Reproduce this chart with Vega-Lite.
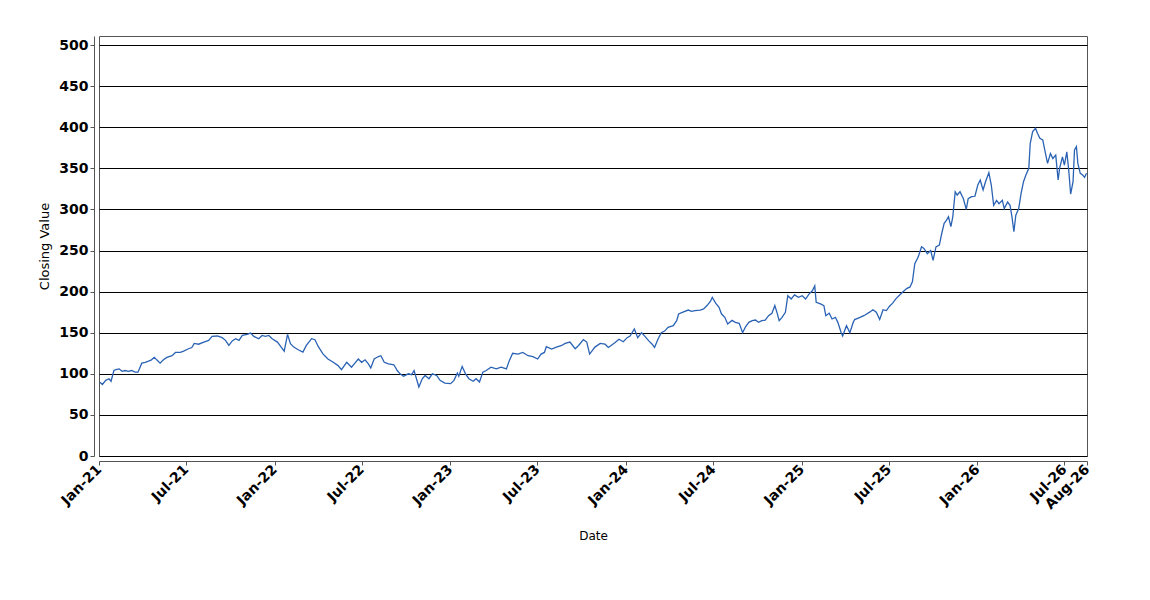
{
  "$schema": "https://vega.github.io/schema/vega-lite/v6.json",
  "width": 988,
  "height": 420,
  "autosize": {"type": "none"},
  "padding": {"left": 99, "top": 36, "right": 63, "bottom": 144},
  "background": "white",
  "config": {
    "view": {"stroke": "#555555", "strokeWidth": 1},
    "font": "DejaVu Sans"
  },
  "data": {
    "values": [
      {"d":"2021-01-03","v":89.8},{"d":"2021-01-08","v":87},{"d":"2021-01-15","v":92},{"d":"2021-01-22","v":94},{"d":"2021-01-26","v":91},
      {"d":"2021-02-01","v":104},{"d":"2021-02-05","v":105},{"d":"2021-02-12","v":106},{"d":"2021-02-18","v":103},{"d":"2021-02-24","v":104},
      {"d":"2021-03-03","v":103},{"d":"2021-03-10","v":104},{"d":"2021-03-17","v":102},{"d":"2021-03-23","v":102},{"d":"2021-03-31","v":113},
      {"d":"2021-04-07","v":114},{"d":"2021-04-14","v":115.5},{"d":"2021-04-20","v":117},{"d":"2021-04-26","v":120},{"d":"2021-05-01","v":117},
      {"d":"2021-05-08","v":113},{"d":"2021-05-15","v":117},{"d":"2021-05-22","v":120},{"d":"2021-06-02","v":122},{"d":"2021-06-09","v":126},
      {"d":"2021-06-19","v":126},{"d":"2021-06-26","v":127.6},{"d":"2021-07-06","v":130.5},{"d":"2021-07-13","v":132},{"d":"2021-07-18","v":137},
      {"d":"2021-07-27","v":136},{"d":"2021-08-07","v":138.6},{"d":"2021-08-17","v":140.7},{"d":"2021-08-24","v":145.5},{"d":"2021-09-04","v":146},
      {"d":"2021-09-14","v":144},{"d":"2021-09-21","v":140.7},{"d":"2021-09-28","v":134.5},{"d":"2021-10-05","v":140},{"d":"2021-10-12","v":142.7},
      {"d":"2021-10-19","v":140.7},{"d":"2021-10-26","v":146.7},{"d":"2021-11-05","v":148},{"d":"2021-11-12","v":149.6},{"d":"2021-11-19","v":145.5},
      {"d":"2021-11-29","v":142.7},{"d":"2021-12-06","v":146.7},{"d":"2021-12-13","v":145.5},{"d":"2021-12-20","v":146.7},{"d":"2021-12-27","v":142.7},
      {"d":"2022-01-07","v":138.6},{"d":"2022-01-14","v":133},{"d":"2022-01-21","v":127.6},{"d":"2022-01-28","v":148},{"d":"2022-02-03","v":136.6},
      {"d":"2022-02-10","v":132.5},{"d":"2022-02-20","v":129},{"d":"2022-03-01","v":126.4},{"d":"2022-03-08","v":134.5},{"d":"2022-03-19","v":142.7},
      {"d":"2022-03-26","v":141.5},{"d":"2022-04-02","v":133},{"d":"2022-04-12","v":124},{"d":"2022-04-22","v":118},{"d":"2022-05-03","v":114},
      {"d":"2022-05-13","v":110},{"d":"2022-05-20","v":105},{"d":"2022-05-31","v":114},{"d":"2022-06-10","v":108},{"d":"2022-06-17","v":113},
      {"d":"2022-06-24","v":118},{"d":"2022-07-01","v":114},{"d":"2022-07-08","v":117},{"d":"2022-07-15","v":112},{"d":"2022-07-20","v":107},
      {"d":"2022-07-27","v":118},{"d":"2022-08-05","v":121},{"d":"2022-08-10","v":122},{"d":"2022-08-17","v":114},{"d":"2022-08-26","v":112},
      {"d":"2022-09-06","v":111},{"d":"2022-09-13","v":104},{"d":"2022-09-19","v":100},{"d":"2022-09-26","v":97},{"d":"2022-10-06","v":100},
      {"d":"2022-10-13","v":99},{"d":"2022-10-18","v":104},{"d":"2022-10-23","v":94},{"d":"2022-10-28","v":84},{"d":"2022-11-04","v":94},
      {"d":"2022-11-10","v":98},{"d":"2022-11-18","v":94},{"d":"2022-11-25","v":100},{"d":"2022-12-04","v":98},{"d":"2022-12-11","v":92},
      {"d":"2022-12-21","v":88.6},{"d":"2023-01-02","v":88},{"d":"2023-01-09","v":92},{"d":"2023-01-16","v":101},{"d":"2023-01-19","v":97},
      {"d":"2023-01-26","v":109},{"d":"2023-02-02","v":100},{"d":"2023-02-09","v":94},{"d":"2023-02-18","v":91},{"d":"2023-02-24","v":94},
      {"d":"2023-03-03","v":90},{"d":"2023-03-10","v":102},{"d":"2023-03-17","v":104},{"d":"2023-03-27","v":108},{"d":"2023-04-07","v":106},
      {"d":"2023-04-17","v":108},{"d":"2023-04-28","v":106},{"d":"2023-05-04","v":116},{"d":"2023-05-11","v":125},{"d":"2023-05-22","v":124},
      {"d":"2023-06-01","v":126},{"d":"2023-06-12","v":122},{"d":"2023-06-22","v":121},{"d":"2023-07-02","v":118},{"d":"2023-07-09","v":124},
      {"d":"2023-07-16","v":126},{"d":"2023-07-20","v":133},{"d":"2023-07-31","v":130},{"d":"2023-08-10","v":132.5},{"d":"2023-08-21","v":134.5},
      {"d":"2023-08-28","v":137},{"d":"2023-09-07","v":138.6},{"d":"2023-09-18","v":130.5},{"d":"2023-09-25","v":134.5},{"d":"2023-10-05","v":141.5},
      {"d":"2023-10-12","v":138.6},{"d":"2023-10-18","v":124},{"d":"2023-10-29","v":132.5},{"d":"2023-11-09","v":137},{"d":"2023-11-19","v":136},
      {"d":"2023-11-26","v":132},{"d":"2023-12-03","v":135},{"d":"2023-12-10","v":138},{"d":"2023-12-18","v":142},{"d":"2023-12-27","v":139},
      {"d":"2024-01-04","v":144},{"d":"2024-01-10","v":146},{"d":"2024-01-19","v":154.5},{"d":"2024-01-26","v":144},{"d":"2024-02-03","v":150},
      {"d":"2024-02-11","v":145},{"d":"2024-02-18","v":140},{"d":"2024-02-25","v":136},{"d":"2024-03-01","v":132},{"d":"2024-03-08","v":142},
      {"d":"2024-03-15","v":150},{"d":"2024-03-22","v":152},{"d":"2024-03-29","v":156.5},{"d":"2024-04-09","v":158.5},{"d":"2024-04-16","v":164.6},
      {"d":"2024-04-20","v":172.8},{"d":"2024-04-29","v":175},{"d":"2024-05-10","v":177.6},{"d":"2024-05-17","v":176},{"d":"2024-05-24","v":177},
      {"d":"2024-06-04","v":177.6},{"d":"2024-06-11","v":179},{"d":"2024-06-18","v":183},{"d":"2024-06-25","v":188},{"d":"2024-06-29","v":193},
      {"d":"2024-07-06","v":186},{"d":"2024-07-13","v":181},{"d":"2024-07-18","v":173},{"d":"2024-07-25","v":168.7},{"d":"2024-07-31","v":160.6},
      {"d":"2024-08-09","v":165},{"d":"2024-08-16","v":162.6},{"d":"2024-08-24","v":161.4},{"d":"2024-08-31","v":150},{"d":"2024-09-06","v":157},
      {"d":"2024-09-13","v":162.6},{"d":"2024-09-20","v":164.6},{"d":"2024-09-27","v":165.4},{"d":"2024-10-03","v":162.6},{"d":"2024-10-10","v":164.6},
      {"d":"2024-10-17","v":165.4},{"d":"2024-10-24","v":170.7},{"d":"2024-10-31","v":173.6},{"d":"2024-11-06","v":183},{"d":"2024-11-11","v":173.6},
      {"d":"2024-11-15","v":164.6},{"d":"2024-11-21","v":168.7},{"d":"2024-11-28","v":174.8},{"d":"2024-12-03","v":195},{"d":"2024-12-10","v":191},
      {"d":"2024-12-17","v":196},{"d":"2024-12-25","v":193},{"d":"2025-01-02","v":195},{"d":"2025-01-09","v":191},{"d":"2025-01-16","v":197},
      {"d":"2025-01-23","v":201},{"d":"2025-01-28","v":207},{"d":"2025-01-31","v":187},{"d":"2025-02-09","v":185},{"d":"2025-02-16","v":183},
      {"d":"2025-02-20","v":170.7},{"d":"2025-02-27","v":173.6},{"d":"2025-03-05","v":166.7},{"d":"2025-03-12","v":168.7},{"d":"2025-03-17","v":162.6},
      {"d":"2025-03-24","v":150},{"d":"2025-03-27","v":146},{"d":"2025-04-04","v":158.5},{"d":"2025-04-11","v":150},{"d":"2025-04-18","v":162.6},
      {"d":"2025-04-21","v":166},{"d":"2025-05-01","v":168.3},{"d":"2025-05-11","v":171},{"d":"2025-05-22","v":175},{"d":"2025-05-29","v":178},
      {"d":"2025-06-05","v":175},{"d":"2025-06-12","v":166},{"d":"2025-06-19","v":178},{"d":"2025-06-26","v":177},{"d":"2025-07-02","v":182},
      {"d":"2025-07-09","v":186},{"d":"2025-07-16","v":191.5},{"d":"2025-07-23","v":195.5},{"d":"2025-07-30","v":199.6},{"d":"2025-08-07","v":203.7},
      {"d":"2025-08-14","v":205.7},{"d":"2025-08-19","v":212},{"d":"2025-08-24","v":234},{"d":"2025-08-31","v":242},{"d":"2025-09-07","v":254.5},
      {"d":"2025-09-12","v":252.5},{"d":"2025-09-19","v":246},{"d":"2025-09-26","v":250},{"d":"2025-10-01","v":238},{"d":"2025-10-07","v":254.5},
      {"d":"2025-10-14","v":256.5},{"d":"2025-10-19","v":270.7},{"d":"2025-10-24","v":283},{"d":"2025-10-29","v":287},{"d":"2025-11-02","v":291},
      {"d":"2025-11-07","v":279},{"d":"2025-11-11","v":291},{"d":"2025-11-16","v":321.5},{"d":"2025-11-20","v":317.5},{"d":"2025-11-26","v":321.5},
      {"d":"2025-12-03","v":313},{"d":"2025-12-09","v":300},{"d":"2025-12-13","v":313},{"d":"2025-12-20","v":315.5},{"d":"2025-12-27","v":316},
      {"d":"2026-01-02","v":329.7},{"d":"2026-01-07","v":335.8},{"d":"2026-01-13","v":323.6},{"d":"2026-01-18","v":333.7},{"d":"2026-01-25","v":344.7},
      {"d":"2026-01-30","v":329.7},{"d":"2026-02-04","v":305},{"d":"2026-02-10","v":311},{"d":"2026-02-15","v":307},{"d":"2026-02-22","v":311},
      {"d":"2026-02-26","v":301},{"d":"2026-03-05","v":309},{"d":"2026-03-10","v":305},{"d":"2026-03-14","v":291},{"d":"2026-03-18","v":272.8},
      {"d":"2026-03-22","v":293},{"d":"2026-03-28","v":301},{"d":"2026-04-02","v":319.5},{"d":"2026-04-07","v":333.7},{"d":"2026-04-12","v":341.9},
      {"d":"2026-04-18","v":350},{"d":"2026-04-21","v":380.5},{"d":"2026-04-26","v":394.7},{"d":"2026-05-02","v":398.8},{"d":"2026-05-06","v":392.7},
      {"d":"2026-05-11","v":386.6},{"d":"2026-05-17","v":384.6},{"d":"2026-05-22","v":370},{"d":"2026-05-27","v":356},{"d":"2026-06-02","v":368},
      {"d":"2026-06-07","v":362},{"d":"2026-06-13","v":366},{"d":"2026-06-18","v":335.8},{"d":"2026-06-21","v":350},{"d":"2026-06-27","v":364},
      {"d":"2026-07-01","v":354},{"d":"2026-07-06","v":370},{"d":"2026-07-10","v":348},{"d":"2026-07-14","v":318.7},{"d":"2026-07-19","v":333.7},
      {"d":"2026-07-22","v":372.4},{"d":"2026-07-26","v":376.4},{"d":"2026-07-29","v":356},{"d":"2026-08-03","v":343.9},{"d":"2026-08-08","v":341.9},
      {"d":"2026-08-12","v":339},{"d":"2026-08-16","v":343.9}
    ]
  },
  "mark": {"type": "line", "color": "#2a62b4", "strokeWidth": 1.3, "interpolate": "linear"},
  "encoding": {
    "x": {
      "field": "d",
      "type": "temporal",
      "title": "Date",
      "scale": {"domain": [{"year": 2021, "month": 1, "date": 1}, {"year": 2026, "month": 8, "date": 17}], "nice": false},
      "axis": {
        "values": [
          {"year": 2021, "month": 1, "date": 1}, {"year": 2021, "month": 7, "date": 1},
          {"year": 2022, "month": 1, "date": 1}, {"year": 2022, "month": 7, "date": 1},
          {"year": 2023, "month": 1, "date": 1}, {"year": 2023, "month": 7, "date": 1},
          {"year": 2024, "month": 1, "date": 1}, {"year": 2024, "month": 7, "date": 1},
          {"year": 2025, "month": 1, "date": 1}, {"year": 2025, "month": 7, "date": 1},
          {"year": 2026, "month": 1, "date": 1}, {"year": 2026, "month": 7, "date": 1},
          {"year": 2026, "month": 8, "date": 17}
        ],
        "format": "%b-%y",
        "labelAngle": -45,
        "labelAlign": "right",
        "labelBaseline": "middle",
        "labelOverlap": false,
        "labelBound": false,
        "labelFlush": false,
        "labelFont": "DejaVu Sans",
        "labelFontSize": 14,
        "labelFontWeight": "bold",
        "labelColor": "#000000",
        "labelPadding": 2,
        "grid": false,
        "offset": 5,
        "domainColor": "#555555",
        "tickColor": "#555555",
        "tickSize": 4,
        "titleFont": "DejaVu Sans",
        "titleFontSize": 12,
        "titleFontWeight": "normal",
        "titleColor": "#000000",
        "titlePadding": 19
      }
    },
    "y": {
      "field": "v",
      "type": "quantitative",
      "title": "Closing Value",
      "scale": {"domain": [0, 511], "nice": false, "zero": true},
      "axis": {
        "values": [0, 50, 100, 150, 200, 250, 300, 350, 400, 450, 500],
        "grid": true,
        "gridColor": "#000000",
        "gridOpacity": 1,
        "gridWidth": 1,
        "offset": 5,
        "domainColor": "#555555",
        "tickColor": "#555555",
        "tickSize": 4,
        "labelFont": "DejaVu Sans",
        "labelFontSize": 14,
        "labelFontWeight": "bold",
        "labelColor": "#000000",
        "labelPadding": 2,
        "titleFont": "DejaVu Sans",
        "titleFontSize": 13,
        "titleFontWeight": "normal",
        "titleColor": "#000000",
        "titlePadding": 7
      }
    }
  }
}
